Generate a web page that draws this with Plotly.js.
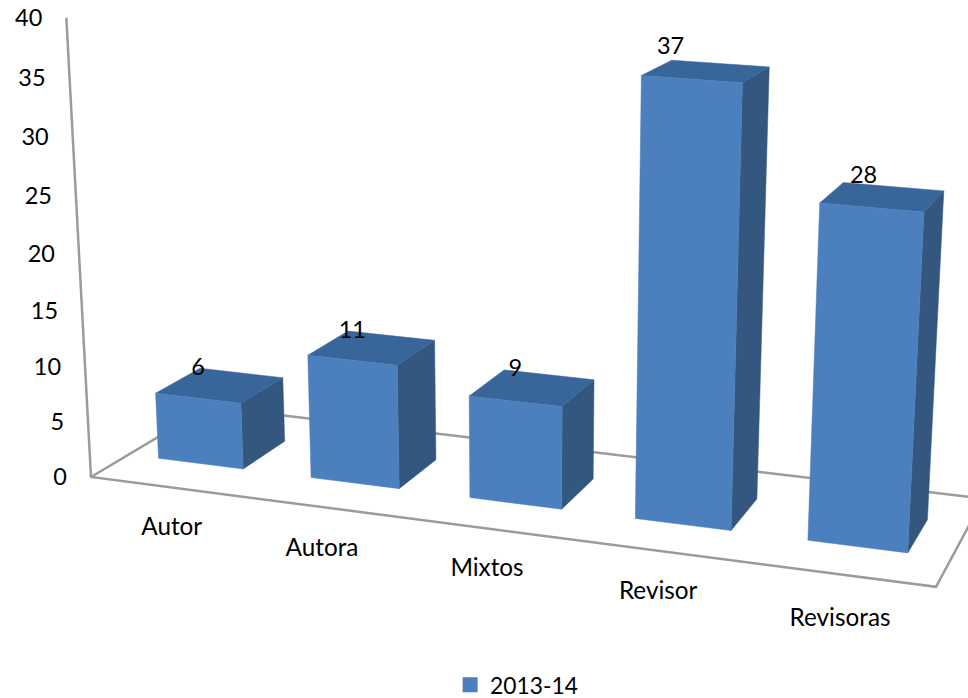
<!DOCTYPE html>
<html><head><meta charset="utf-8">
<script src="https://cdn.plot.ly/plotly-3.0.1.min.js"></script>
<style>html,body{margin:0;padding:0;background:#fff}#c{width:968px;height:698px}</style>
</head><body><div id="c"></div>
<script>
const categories = ["Autor","Autora","Mixtos","Revisor","Revisoras"];
const values = [6,11,9,37,28];
const valueTicks = [0,5,10,15,20,25,30,35,40];
const seriesName = "2013-14";

// 3D-to-page projection of (category position, value, depth)
const AXIS_MAX = 40, AXIS_TOP = 39.5;
function project(X, v, Z){
  const y = v/AXIS_MAX;
  const w = 1 - .10106*X - .05435*y + .0971*Z;
  return [(91 + 750.4*X - 28.59*y + 138.3*Z)/w,
          (477 + 50.5*X - 466*y - 30.9*Z)/w];
}
const BAR_W = .112, Z0 = .30, Z1 = .68, SHIFT = -.004;
const FONT = {family:"Lato, Carlito, sans-serif", size:23.5, color:"#000"};
const CAT_FONT = {family:"Lato, Carlito, sans-serif", size:24.3, color:"#000"};
const LEG_FONT = {family:"Lato, Carlito, sans-serif", size:22.8, color:"#000"};
const LABEL_DX = [0,0,0,-21,-8], LABEL_DY = [-29,-28,-31,-31,-30];
const CAT_DX = [4,-4,-4,-5,-3], CAT_DY = [42,42,41,42,45];
const PLOT_H = 698, LEGEND_Y = 685;

const traces = [];
function poly(pts, fill, line, width){
  const xs = pts.map(p=>p[0]), ys = pts.map(p=>p[1]);
  traces.push({type:"scatter", x:xs, y:ys, mode:"lines", showlegend:false, hoverinfo:"skip",
    fill: fill ? "toself" : "none", fillcolor: fill || undefined,
    line:{color: line, width: width, simplify:false}, cliponaxis:true});
}
// frame
poly([project(0,AXIS_TOP,0), project(0,0,0), project(1,0,0), project(1,0,1), project(0,0,1), project(0,0,0)], null, "#9b9b9b", 2.5);

// bars
values.forEach((v,i)=>{
  const c = (i+.5)/categories.length + SHIFT, a = c-BAR_W/2, b = c+BAR_W/2;
  poly([project(b,0,Z0),project(b,0,Z1),project(b,v,Z1),project(b,v,Z0),project(b,0,Z0)], "#33577f", "#33577f", .5);
  poly([project(a,v,Z0),project(b,v,Z0),project(b,v,Z1),project(a,v,Z1),project(a,v,Z0)], "#38659a", "#38659a", .5);
  poly([project(a,0,Z0),project(b,0,Z0),project(b,v,Z0),project(a,v,Z0),project(a,0,Z0)], "#4c7fbd", "#4c7fbd", .5);
});

// value labels on the bars
const lab = values.map((v,i)=>{
  const p = project((i+.5)/categories.length+SHIFT, v, Z0);
  return [p[0]+LABEL_DX[i], p[1]+LABEL_DY[i]];
});
traces.push({type:"scatter", mode:"text", x:lab.map(p=>p[0]), y:lab.map(p=>p[1]),
  text:values.map(String), textposition:"middle center", textfont:FONT,
  showlegend:false, hoverinfo:"skip", cliponaxis:false});

// category labels
const cat = categories.map((n,i)=>{
  const p = project((i+.5)/categories.length, 0, 0);
  return [p[0]+CAT_DX[i], p[1]+CAT_DY[i]];
});
traces.push({type:"scatter", mode:"text", x:cat.map(p=>p[0]), y:cat.map(p=>p[1]),
  text:categories, textposition:"middle center", textfont:CAT_FONT,
  showlegend:false, hoverinfo:"skip", cliponaxis:false});

// value-axis labels
const tk = valueTicks.map(t=>{
  const p = project(0, t*AXIS_TOP/AXIS_MAX, 0);
  return [p[0]-24, p[1]+2];
});
traces.push({type:"scatter", mode:"text", x:tk.map(p=>p[0]), y:tk.map(p=>p[1]),
  text:valueTicks.map(String), textposition:"middle left", textfont:FONT,
  showlegend:false, hoverinfo:"skip", cliponaxis:false});

// legend entry
traces.push({type:"scatter", mode:"markers", x:[null], y:[null], name:seriesName,
  marker:{symbol:"square", size:15, color:"#4c7fbd"}, showlegend:true});

Plotly.newPlot("c", traces, {
  width:968, height:698, margin:{l:0,r:0,t:0,b:0,autoexpand:false},
  paper_bgcolor:"#fff", plot_bgcolor:"#fff",
  xaxis:{range:[0,968], visible:false, fixedrange:true},
  yaxis:{range:[PLOT_H,0], visible:false, fixedrange:true},
  showlegend:true,
  legend:{x:.465, y:(PLOT_H-LEGEND_Y)/PLOT_H, xanchor:"left", yanchor:"middle", font:LEG_FONT, bgcolor:"rgba(0,0,0,0)", borderwidth:0, itemwidth:30}
}, {displayModeBar:false, staticPlot:true});
</script></body></html>
